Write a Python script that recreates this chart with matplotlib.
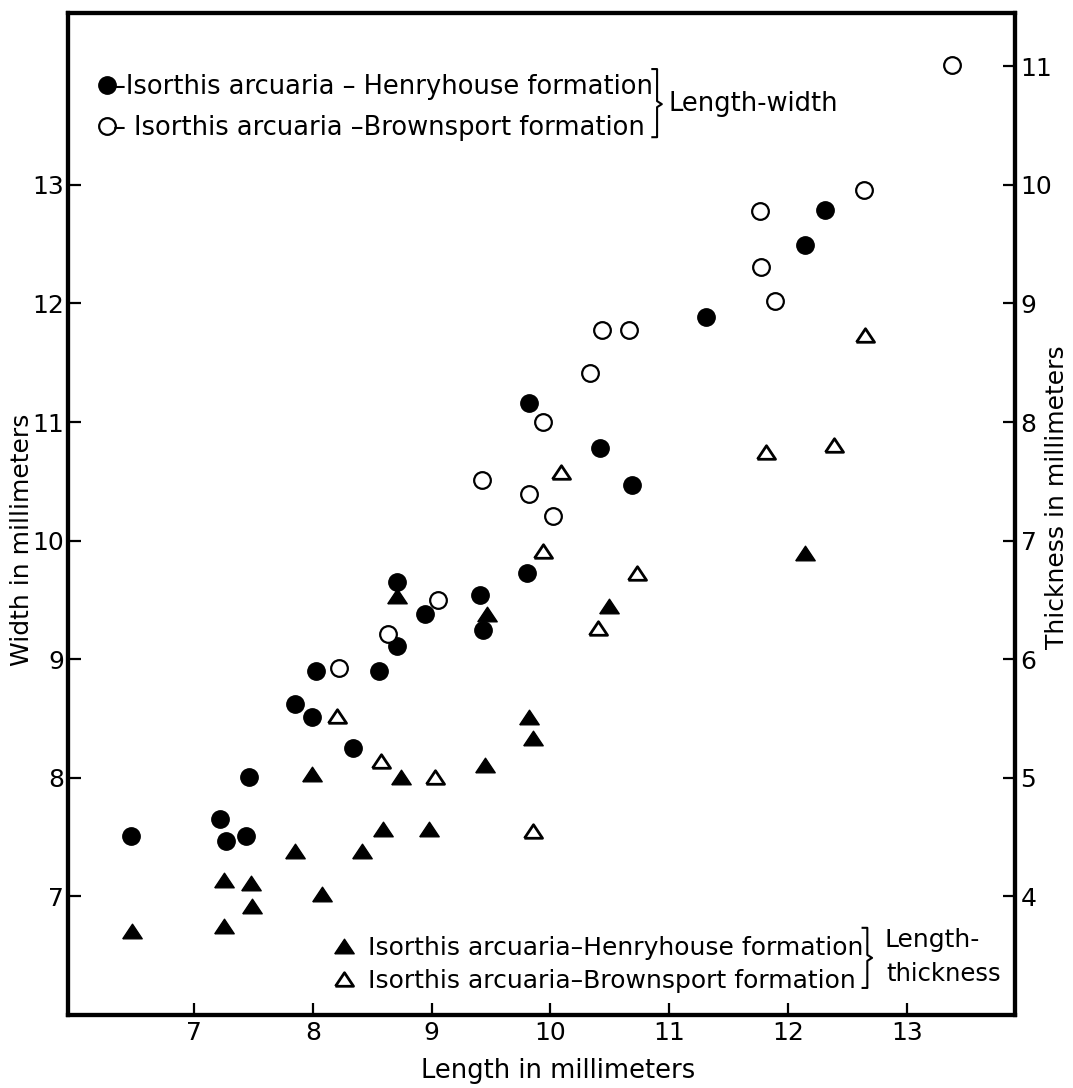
import matplotlib
matplotlib.use("Agg")
import matplotlib.pyplot as plt

plt.rcParams['font.family'] = ['DejaVu Sans']

# length-width, Henryhouse formation (filled circles)
hh_len = [6.47, 7.22, 7.27, 7.44, 7.46, 7.85, 7.99, 8.03, 8.34, 8.56, 8.71,
          8.71, 8.94, 9.41, 9.43, 9.80, 9.82, 10.42, 10.69, 11.31, 12.14, 12.31]
hh_wid = [7.51, 7.65, 7.47, 7.51, 8.01, 8.62, 8.51, 8.90, 8.25, 8.90, 9.11,
          9.65, 9.38, 9.54, 9.25, 9.73, 11.16, 10.78, 10.47, 11.89, 12.49, 12.79]

# length-width, Brownsport formation (open circles)
bp_len = [8.22, 8.63, 9.05, 9.42, 9.82, 9.94, 10.02, 10.33, 10.43, 10.66,
          11.76, 11.77, 11.89, 12.64, 13.38]
bp_wid = [8.93, 9.21, 9.50, 10.51, 10.39, 11.00, 10.21, 11.41, 11.78, 11.78,
          12.78, 12.31, 12.02, 12.96, 14.01]

# length-thickness, Henryhouse formation (filled triangles)
hh_tlen = [6.48, 7.25, 7.25, 7.48, 7.49, 7.85, 7.99, 8.08, 8.41, 8.59, 8.71,
           8.74, 8.98, 9.45, 9.47, 9.82, 9.85, 10.49, 12.14]
hh_thk = [3.71, 4.14, 3.75, 4.11, 3.92, 4.38, 5.03, 4.02, 4.38, 4.57, 6.53,
          5.01, 4.57, 5.11, 6.38, 5.51, 5.34, 6.45, 6.90]

# length-thickness, Brownsport formation (open triangles)
bp_tlen = [8.20, 8.57, 9.03, 9.85, 9.94, 10.09, 10.40, 10.73, 11.81, 12.39, 12.65]
bp_thk = [5.52, 5.14, 5.01, 4.55, 6.91, 7.58, 6.26, 6.73, 7.75, 7.81, 8.73]

x_ticks = [7, 8, 9, 10, 11, 12, 13]
w_ticks = [7, 8, 9, 10, 11, 12, 13]
t_ticks = [4, 5, 6, 7, 8, 9, 10, 11]

fs = 18.5
tri = [(-1, -0.75), (1, -0.75), (0, 0.75), (-1, -0.75)]

fig = plt.figure(figsize=(10.73, 10.88), dpi=100)
ax = fig.add_axes([0.0634, 0.0671, 0.8826, 0.9210])
ax2 = ax.twinx()

ax.set_xlim(5.94, 13.91)
ax.set_ylim(6.0, 14.45)
ax2.set_ylim(6.0 - 3, 14.45 - 3)

p1, = ax.plot(hh_len, hh_wid, 'o', color='black', ms=12.5, ls='none',
              label='\u2013Isorthis arcuaria \u2013 Henryhouse formation')
p2, = ax.plot(bp_len, bp_wid, 'o', mfc='white', mec='black', mew=1.6, ms=12,
              ls='none', label='\u2013 Isorthis arcuaria \u2013Brownsport formation')
p3, = ax2.plot(hh_tlen, hh_thk, marker=tri, color='black', ms=14, ls='none',
               label='Isorthis arcuaria\u2013Henryhouse formation')
p4, = ax2.plot(bp_tlen, bp_thk, marker=tri, mfc='white', mec='black', mew=2,
               ms=13, ls='none', label='Isorthis arcuaria\u2013Brownsport formation')

for a in (ax, ax2):
    for s in a.spines.values():
        s.set_linewidth(3)

ax.set_xticks(x_ticks)
ax.set_yticks(w_ticks)
ax2.set_yticks(t_ticks)
ax.tick_params(axis='both', direction='in', length=9, width=1.6, labelsize=18,
               top=False, right=False)
ax.tick_params(axis='x', pad=4)
ax.tick_params(axis='y', pad=3)
ax2.tick_params(axis='y', direction='in', length=9, width=1.6, labelsize=18, pad=4)

ax.set_xlabel('Length in millimeters', fontsize=fs)
ax.xaxis.set_label_coords(0.518, -0.043)
ax.set_ylabel('Width in millimeters', fontsize=18)
ax.yaxis.set_label_coords(-0.036, 0.474)
ax2.set_ylabel('Thickness in millimeters', fontsize=18)
ax2.yaxis.set_label_coords(1.032, 0.517)

leg1 = ax2.legend(handles=[p1, p2], loc='upper left', bbox_to_anchor=(0.0317, 0.939),
                  frameon=False, fontsize=fs, handlelength=0.7, handletextpad=-0.1,
                  borderpad=0, borderaxespad=0, labelspacing=0.57)
ax2.add_artist(leg1)
ax2.legend(handles=[p3, p4], loc='lower left', bbox_to_anchor=(0.282, 0.022),
           frameon=False, fontsize=18, handlelength=0.72, handletextpad=0.6,
           borderpad=0, borderaxespad=0, labelspacing=0.36)

# brackets grouping the legend entries
ax2.plot([0.617, 0.622, 0.622, 0.627, 0.622, 0.622, 0.617],
         [0.944, 0.944, 0.912, 0.909, 0.906, 0.876, 0.876],
         transform=ax2.transAxes, color='black', lw=1.5, clip_on=False)
ax2.text(0.634, 0.909, 'Length-width', transform=ax2.transAxes, fontsize=fs,
         va='center', ha='left')
ax2.plot([0.839, 0.844, 0.844, 0.849, 0.844, 0.844, 0.839],
         [0.087, 0.087, 0.060, 0.057, 0.054, 0.027, 0.027],
         transform=ax2.transAxes, color='black', lw=1.5, clip_on=False)
ax2.text(0.862, 0.075, 'Length-', transform=ax2.transAxes, fontsize=18,
         va='center', ha='left')
ax2.text(0.864, 0.041, 'thickness', transform=ax2.transAxes, fontsize=17.5,
         va='center', ha='left')

fig.savefig('out.png', dpi=100)
